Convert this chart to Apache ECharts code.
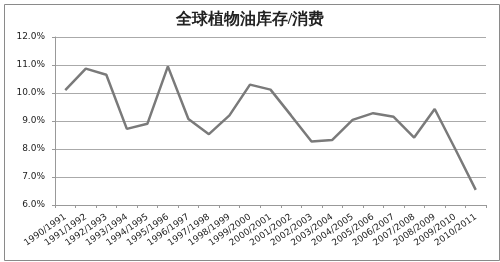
<!DOCTYPE html>
<html><head><meta charset="utf-8">
<script src="https://cdn.jsdelivr.net/npm/echarts@6/dist/echarts.min.js"></script>
<style>html,body{margin:0;padding:0;background:#fff}#c{width:500px;height:262px}</style>
</head><body><div id="c"></div>
<script>
var categories = ["1990/1991","1991/1992","1992/1993","1993/1994","1994/1995","1995/1996","1996/1997","1997/1998","1998/1999","1999/2000","2000/2001","2001/2002","2002/2003","2003/2004","2004/2005","2005/2006","2006/2007","2007/2008","2008/2009","2009/2010","2010/2011"];
var ratio = [10.1, 10.87, 10.65, 8.72, 8.9, 10.95, 9.07, 8.53, 9.2, 10.3, 10.12, 9.2, 8.27, 8.32, 9.04, 9.28, 9.15, 8.41, 9.43, 8.0, 6.54];
var yTicks = [6, 7, 8, 9, 10, 11, 12];
var title = "全球植物油库存/消费";

var chart = echarts.init(document.getElementById('c'), null, {renderer: 'canvas'});
chart.setOption({
  animation: false,
  backgroundColor: '#fff',
  title: {text: title, left: 'center', top: 7, textStyle: {fontFamily: 'serif', fontSize: 16, fontWeight: 'bold', color: '#222'}},
  graphic: [{type: 'rect', left: 2, top: 2, shape: {width: 495, height: 256}, style: {fill: 'none', stroke: '#8a8a8a', lineWidth: 1}}],
  grid: {left: 55, right: 14, top: 37, bottom: 57},
  xAxis: {
    type: 'category', data: categories, boundaryGap: true,
    axisLine: {lineStyle: {color: '#999', width: 1}},
    axisTick: {show: true, length: 3, lineStyle: {color: '#999'}},
    axisLabel: {rotate: 35, fontSize: 9, color: '#222', margin: 11, interval: 0, fontFamily: 'Verdana, DejaVu Sans, sans-serif'}
  },
  yAxis: {
    type: 'value', min: yTicks[0], max: yTicks[yTicks.length-1], interval: 1,
    axisLine: {show: true, lineStyle: {color: '#999'}},
    axisTick: {show: true, length: 3, lineStyle: {color: '#999'}},
    splitLine: {lineStyle: {color: '#aaa', width: 1}},
    axisLabel: {fontSize: 9, color: '#222', margin: 10, fontFamily: 'Verdana, DejaVu Sans, sans-serif', formatter: function(v){return v.toFixed(1)+'%';}}
  },
  series: [{
    type: 'line', data: ratio, symbol: 'none',
    lineStyle: {color: '#7a7a7a', width: 2.5}
  }]
});
</script></body></html>
